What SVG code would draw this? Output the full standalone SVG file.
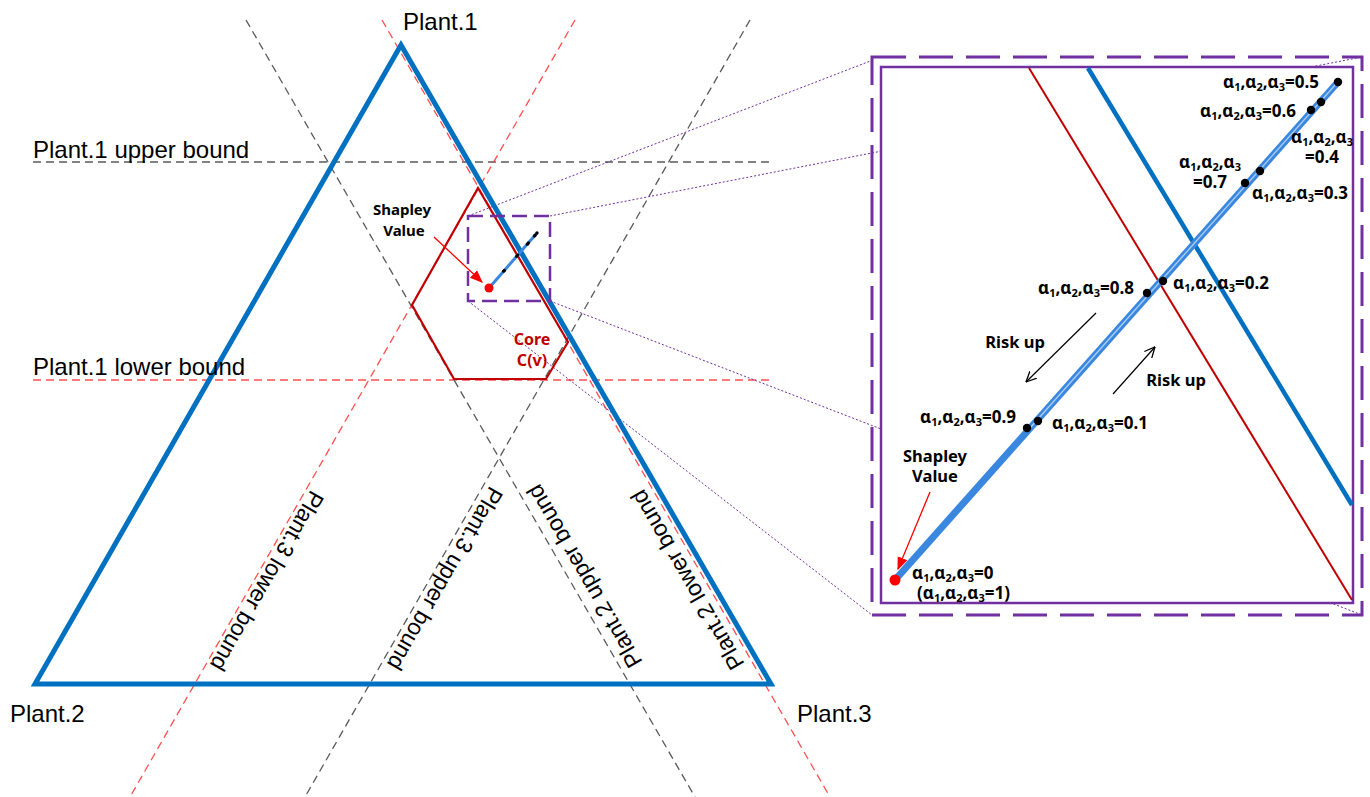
<svg xmlns="http://www.w3.org/2000/svg" width="1370" height="797" viewBox="0 0 1370 797">
<defs>
<style>
.gd{stroke:#595959;stroke-width:1.3;stroke-dasharray:8 5;fill:none}
.rd{stroke:#FF4F4F;stroke-width:1.3;stroke-dasharray:8 5;fill:none}
.dot{stroke:#7030A0;stroke-width:1;stroke-dasharray:2 2;fill:none}
.lab{font-family:"Liberation Sans",Arial,sans-serif;font-size:24px;fill:#000}
.rlab{font-family:"Liberation Sans",Arial,sans-serif;font-size:23px;fill:#000}
.b{font-family:"Noto Sans","Open Sans",sans-serif;font-weight:bold;fill:#000}
.al{font-family:"Noto Sans","Open Sans",sans-serif;font-weight:bold;font-size:17px;fill:#000}
.sb{font-size:11px}
.bd{fill:#000}
</style>
<marker id="rh" viewBox="0 0 10 10" refX="9" refY="5" markerWidth="13" markerHeight="13" markerUnits="userSpaceOnUse" orient="auto"><path d="M0,1 L10,5 L0,9 z" fill="#FF0000"/></marker>
<marker id="bh" viewBox="0 0 10 10" refX="9.5" refY="5" markerWidth="11" markerHeight="11" markerUnits="userSpaceOnUse" orient="auto"><path d="M0,0.5 L9.5,5 L0,9.5" fill="none" stroke="#000" stroke-width="1.2"/></marker>
</defs>
<rect width="1370" height="797" fill="#fff"/>

<g id="bound-lines">
<line class="gd" x1="33" y1="162" x2="770" y2="162"/>
<line class="rd" x1="33" y1="380" x2="770" y2="380"/>
<line class="gd" x1="246" y1="20" x2="695" y2="797"/>
<line class="rd" x1="382" y1="20" x2="830" y2="797"/>
<line class="rd" x1="575" y1="20" x2="130" y2="797"/>
<line class="gd" x1="750" y1="20" x2="305" y2="797"/>
</g>

<g id="connectors">
<line class="dot" x1="468" y1="216" x2="873" y2="60"/>
<line class="dot" x1="550" y1="216" x2="1362" y2="57"/>
<line class="dot" x1="468" y1="301" x2="872" y2="615"/>
<line class="dot" x1="550" y1="301" x2="1362" y2="615"/>
</g>

<g id="triangle">
<polygon points="401,45 35,684 771,684" fill="none" stroke="#0070C0" stroke-width="5" stroke-linejoin="miter"/>
</g>

<g id="core">
<polygon points="478,188 568,342 546,379 454,379 412,305" fill="none" stroke="#C00000" stroke-width="2.2"/>
<text class="b" x="532" y="345" font-size="16" text-anchor="middle" style="fill:#C00000">Core</text>
<text class="b" x="532" y="366" font-size="16" text-anchor="middle" style="fill:#C00000">C(v)</text>
</g>

<g id="zoom-box">
<rect x="468" y="216" width="82" height="85" fill="none" stroke="#7030A0" stroke-width="2.5" stroke-dasharray="15 7"/>
</g>

<g id="path-small">
<line x1="489" y1="288" x2="537" y2="233" stroke="#3A87E0" stroke-width="3"/>
<circle class="bd" cx="537" cy="233" r="1.7"/>
<circle class="bd" cx="535.1" cy="235.2" r="1.6"/>
<circle class="bd" cx="534.3" cy="236.1" r="1.6"/>
<circle class="bd" cx="528.4" cy="242.9" r="1.6"/>
<circle class="bd" cx="527.3" cy="244.2" r="1.6"/>
<circle class="bd" cx="517.8" cy="255" r="1.6"/>
<circle class="bd" cx="516.6" cy="256.3" r="1.6"/>
<circle class="bd" cx="504.4" cy="270.4" r="1.6"/>
<circle class="bd" cx="503.6" cy="271.2" r="1.6"/>
<circle cx="489" cy="288" r="4.5" fill="#FF0000"/>
</g>

<g id="shapley-main">
<text class="b" x="402" y="215" font-size="15" text-anchor="middle">Shapley</text>
<text class="b" x="404" y="236" font-size="15" text-anchor="middle">Value</text>
<line x1="434" y1="237" x2="482" y2="282" stroke="#FF0000" stroke-width="1.3" marker-end="url(#rh)"/>
</g>

<g id="labels">
<text class="lab" x="403" y="30">Plant.1</text>
<text class="lab" x="33" y="158">Plant.1 upper bound</text>
<text class="lab" x="33" y="375">Plant.1 lower bound</text>
<text class="lab" x="10" y="722">Plant.2</text>
<text class="lab" x="797" y="722">Plant.3</text>
<text class="rlab" transform="translate(311,489) rotate(120)">Plant.3 lower bound</text>
<text class="rlab" transform="translate(490,485) rotate(120)">Plant.3 upper bound</text>
<text class="rlab" transform="translate(643,662) rotate(-120)">Plant.2 upper bound</text>
<text class="rlab" transform="translate(745,664) rotate(-120)">Plant.2 lower bound</text>
</g>

<g id="inset">
<rect x="881" y="67" width="472" height="536" fill="#fff" stroke="#7030A0" stroke-width="2.5"/>
<rect x="872" y="57" width="490" height="558" fill="none" stroke="#7030A0" stroke-width="3" stroke-dasharray="34 13"/>
<line x1="1029" y1="68" x2="1352" y2="600" stroke="#C00000" stroke-width="2"/>
<line x1="1088" y1="68" x2="1352" y2="505" stroke="#0070C0" stroke-width="4.5"/>
<line x1="895" y1="580" x2="1338" y2="82" stroke="#3A87E0" stroke-width="7"/>
<line x1="1030" y1="428" x2="1336" y2="84" stroke="#A9CDF4" stroke-width="1.4"/>
<circle class="bd" cx="1338" cy="82" r="4.2"/>
<circle class="bd" cx="1321" cy="102" r="4.2"/>
<circle class="bd" cx="1311" cy="110" r="4.2"/>
<circle class="bd" cx="1260" cy="171" r="4.2"/>
<circle class="bd" cx="1245" cy="183" r="4.2"/>
<circle class="bd" cx="1163" cy="281" r="4.2"/>
<circle class="bd" cx="1147" cy="293" r="4.2"/>
<circle class="bd" cx="1038" cy="421" r="4.2"/>
<circle class="bd" cx="1027" cy="428" r="4.2"/>
<circle cx="895" cy="580" r="5.5" fill="#FF0000"/>
</g>

<g id="inset-labels">
<text class="al" x="1223" y="88">α<tspan class="sb" dy="3">1</tspan><tspan dy="-3">,α</tspan><tspan class="sb" dy="3">2</tspan><tspan dy="-3">,α</tspan><tspan class="sb" dy="3">3</tspan><tspan dy="-3">=0.5</tspan></text>
<text class="al" x="1200" y="117">α<tspan class="sb" dy="3">1</tspan><tspan dy="-3">,α</tspan><tspan class="sb" dy="3">2</tspan><tspan dy="-3">,α</tspan><tspan class="sb" dy="3">3</tspan><tspan dy="-3">=0.6</tspan></text>
<text class="al" x="1291" y="143">α<tspan class="sb" dy="3">1</tspan><tspan dy="-3">,α</tspan><tspan class="sb" dy="3">2</tspan><tspan dy="-3">,α</tspan><tspan class="sb" dy="3">3</tspan></text>
<text class="al" x="1305" y="163">=0.4</text>
<text class="al" x="1179" y="168">α<tspan class="sb" dy="3">1</tspan><tspan dy="-3">,α</tspan><tspan class="sb" dy="3">2</tspan><tspan dy="-3">,α</tspan><tspan class="sb" dy="3">3</tspan></text>
<text class="al" x="1193" y="188">=0.7</text>
<text class="al" x="1252" y="199">α<tspan class="sb" dy="3">1</tspan><tspan dy="-3">,α</tspan><tspan class="sb" dy="3">2</tspan><tspan dy="-3">,α</tspan><tspan class="sb" dy="3">3</tspan><tspan dy="-3">=0.3</tspan></text>
<text class="al" x="1038" y="294">α<tspan class="sb" dy="3">1</tspan><tspan dy="-3">,α</tspan><tspan class="sb" dy="3">2</tspan><tspan dy="-3">,α</tspan><tspan class="sb" dy="3">3</tspan><tspan dy="-3">=0.8</tspan></text>
<text class="al" x="1173" y="289">α<tspan class="sb" dy="3">1</tspan><tspan dy="-3">,α</tspan><tspan class="sb" dy="3">2</tspan><tspan dy="-3">,α</tspan><tspan class="sb" dy="3">3</tspan><tspan dy="-3">=0.2</tspan></text>
<text class="al" x="920" y="423">α<tspan class="sb" dy="3">1</tspan><tspan dy="-3">,α</tspan><tspan class="sb" dy="3">2</tspan><tspan dy="-3">,α</tspan><tspan class="sb" dy="3">3</tspan><tspan dy="-3">=0.9</tspan></text>
<text class="al" x="1052" y="429">α<tspan class="sb" dy="3">1</tspan><tspan dy="-3">,α</tspan><tspan class="sb" dy="3">2</tspan><tspan dy="-3">,α</tspan><tspan class="sb" dy="3">3</tspan><tspan dy="-3">=0.1</tspan></text>
<text class="al" x="912" y="579">α<tspan class="sb" dy="3">1</tspan><tspan dy="-3">,α</tspan><tspan class="sb" dy="3">2</tspan><tspan dy="-3">,α</tspan><tspan class="sb" dy="3">3</tspan><tspan dy="-3">=0</tspan></text>
<text class="al" x="917" y="599">(α<tspan class="sb" dy="3">1</tspan><tspan dy="-3">,α</tspan><tspan class="sb" dy="3">2</tspan><tspan dy="-3">,α</tspan><tspan class="sb" dy="3">3</tspan><tspan dy="-3">=1)</tspan></text>
<text class="b" x="1015" y="348" font-size="16.5" text-anchor="middle">Risk up</text>
<text class="b" x="1176" y="386" font-size="16.5" text-anchor="middle">Risk up</text>
<line x1="1096" y1="313" x2="1026" y2="382" stroke="#000" stroke-width="1.2" marker-end="url(#bh)"/>
<line x1="1113" y1="394" x2="1155" y2="347" stroke="#000" stroke-width="1.2" marker-end="url(#bh)"/>
<text class="b" x="935" y="462" font-size="16.5" text-anchor="middle">Shapley</text>
<text class="b" x="935" y="482" font-size="16.5" text-anchor="middle">Value</text>
<line x1="930" y1="492" x2="898" y2="569" stroke="#FF0000" stroke-width="1.3" marker-end="url(#rh)"/>
</g>
</svg>
